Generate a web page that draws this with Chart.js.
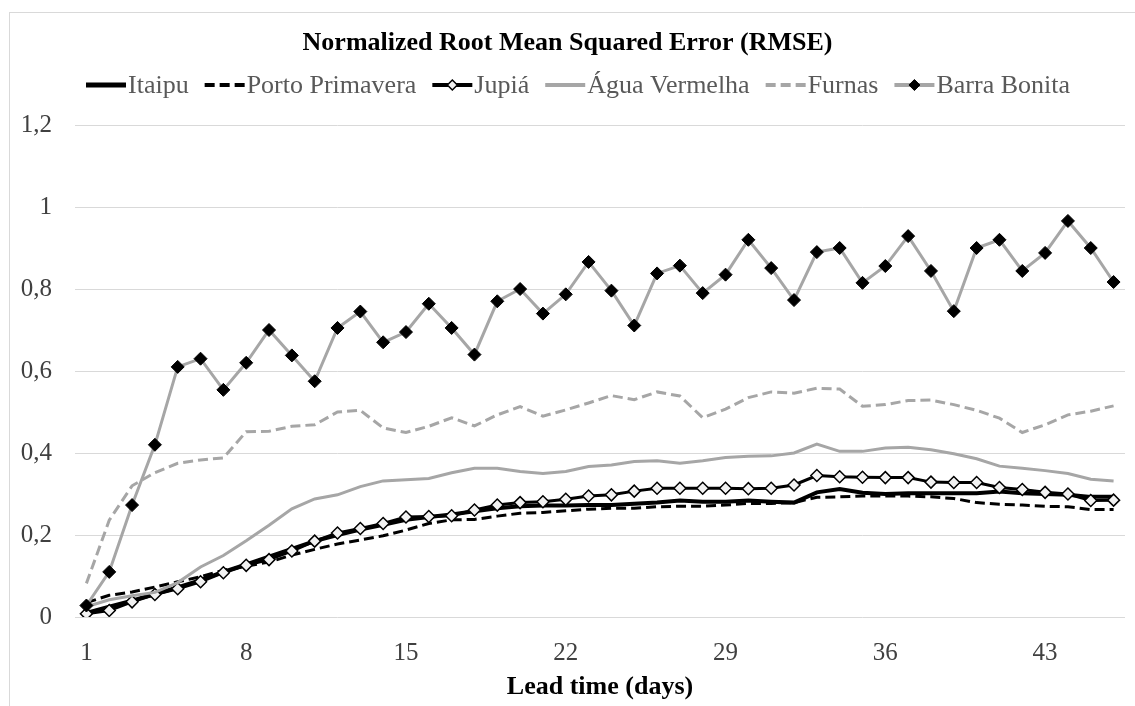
<!DOCTYPE html>
<html>
<head>
<meta charset="utf-8">
<script src="https://cdn.jsdelivr.net/npm/chart.js@4/dist/chart.umd.min.js"></script>
<style>
  html, body { margin: 0; padding: 0; background: #fff; }
  #wrap { width: 1135px; height: 706px; position: relative; }
</style>
</head>
<body>
<div id="wrap"><canvas id="rmseChart"></canvas></div>
<script>
// lead time in days
const days = [1, 2, 3, 4, 5, 6, 7, 8, 9, 10, 11, 12, 13, 14, 15, 16, 17, 18, 19, 20, 21, 22, 23,
  24, 25, 26, 27, 28, 29, 30, 31, 32, 33, 34, 35, 36, 37, 38, 39, 40, 41, 42, 43, 44, 45, 46];
const shownDays = [1, 8, 15, 22, 29, 36, 43];

const itaipu = [0.010, 0.025, 0.040, 0.056, 0.072, 0.090, 0.110, 0.128, 0.147, 0.166, 0.185, 0.200,
  0.213, 0.225, 0.237, 0.244, 0.250, 0.258, 0.265, 0.270, 0.272, 0.272, 0.273, 0.273, 0.276, 0.279,
  0.284, 0.281, 0.281, 0.284, 0.281, 0.279, 0.304, 0.312, 0.303, 0.300, 0.302, 0.302, 0.302, 0.302,
  0.306, 0.302, 0.300, 0.298, 0.293, 0.293];
const portoPrimavera = [0.035, 0.053, 0.061, 0.073, 0.086, 0.098, 0.114, 0.124, 0.134, 0.151, 0.165,
  0.178, 0.188, 0.198, 0.212, 0.228, 0.237, 0.238, 0.246, 0.253, 0.255, 0.259, 0.263, 0.265, 0.265,
  0.269, 0.270, 0.270, 0.273, 0.277, 0.277, 0.279, 0.292, 0.293, 0.295, 0.295, 0.295, 0.293, 0.289,
  0.279, 0.275, 0.273, 0.270, 0.269, 0.262, 0.262];
const jupia = [0.008, 0.016, 0.037, 0.055, 0.069, 0.086, 0.108, 0.126, 0.140, 0.161, 0.185, 0.205,
  0.216, 0.228, 0.244, 0.245, 0.247, 0.261, 0.273, 0.279, 0.281, 0.287, 0.295, 0.298, 0.307, 0.314,
  0.314, 0.314, 0.314, 0.313, 0.314, 0.322, 0.345, 0.342, 0.341, 0.340, 0.340, 0.329, 0.328, 0.328,
  0.316, 0.311, 0.304, 0.300, 0.284, 0.285];
const aguaVermelha = [0.025, 0.042, 0.052, 0.060, 0.084, 0.122, 0.150, 0.186, 0.224, 0.264, 0.288,
  0.298, 0.318, 0.332, 0.335, 0.338, 0.352, 0.363, 0.363, 0.355, 0.350, 0.355, 0.367, 0.371, 0.379,
  0.381, 0.375, 0.381, 0.389, 0.392, 0.393, 0.400, 0.422, 0.404, 0.404, 0.412, 0.414, 0.408, 0.398,
  0.386, 0.368, 0.363, 0.357, 0.350, 0.336, 0.332];
const furnas = [0.082, 0.236, 0.320, 0.352, 0.375, 0.383, 0.388, 0.452, 0.453, 0.465, 0.469, 0.500,
  0.504, 0.461, 0.450, 0.465, 0.486, 0.466, 0.493, 0.513, 0.490, 0.505, 0.522, 0.540, 0.530, 0.549,
  0.539, 0.486, 0.507, 0.535, 0.549, 0.546, 0.558, 0.556, 0.514, 0.518, 0.528, 0.529, 0.518, 0.504,
  0.485, 0.450, 0.469, 0.493, 0.502, 0.515];
const barraBonita = [0.028, 0.110, 0.273, 0.420, 0.610, 0.630, 0.554, 0.620, 0.700, 0.638, 0.575,
  0.705, 0.745, 0.670, 0.695, 0.764, 0.705, 0.640, 0.770, 0.800, 0.740, 0.787, 0.866, 0.796, 0.711,
  0.838, 0.857, 0.790, 0.835, 0.920, 0.851, 0.773, 0.890, 0.900, 0.815, 0.856, 0.929, 0.844, 0.746,
  0.900, 0.920, 0.844, 0.888, 0.966, 0.900, 0.817];

const BLACK = '#000000';
const GREY = '#a6a6a6';
const SERIF = '"Liberation Serif", "Times New Roman", serif';

const datasets = [
  { label: 'Itaipu', data: itaipu, borderColor: BLACK, borderWidth: 4, pointRadius: 0, order: 5 },
  { label: 'Porto Primavera', data: portoPrimavera, borderColor: BLACK, borderWidth: 3,
    borderDash: [10, 5], pointRadius: 0, order: 4 },
  { label: 'Jupiá', data: jupia, borderColor: BLACK, borderWidth: 3, pointRadius: 6,
    pointStyle: 'rectRot', pointBackgroundColor: '#f2f2f2', pointBorderColor: BLACK,
    pointBorderWidth: 1.5, order: 3 },
  { label: 'Água Vermelha', data: aguaVermelha, borderColor: GREY, borderWidth: 3, pointRadius: 0, order: 2 },
  { label: 'Furnas', data: furnas, borderColor: GREY, borderWidth: 3, borderDash: [10, 5],
    pointRadius: 0, order: 1 },
  { label: 'Barra Bonita', data: barraBonita, borderColor: GREY, borderWidth: 3, pointRadius: 6.5,
    pointStyle: 'rectRot', pointBackgroundColor: BLACK, pointBorderColor: BLACK,
    pointBorderWidth: 1, order: 0 }
];

// white page, thin frame, title and the line-sample legend
const frame = {
  id: 'frame',
  beforeDraw(chart) {
    const ctx = chart.ctx;
    ctx.save();
    ctx.fillStyle = '#ffffff';
    ctx.fillRect(0, 0, chart.width, chart.height);
    ctx.strokeStyle = '#d9d9d9';
    ctx.lineWidth = 1;
    ctx.strokeRect(9.5, 12.5, chart.width, chart.height);
    ctx.restore();
  },
  afterDraw(chart) {
    const ctx = chart.ctx;
    ctx.save();
    ctx.fillStyle = '#000';
    ctx.font = 'bold 26px ' + SERIF;
    ctx.textAlign = 'center';
    ctx.textBaseline = 'middle';
    ctx.fillText('Normalized Root Mean Squared Error (RMSE)', chart.width / 2, 43);

    ctx.font = '26px ' + SERIF;
    ctx.textAlign = 'left';
    const sample = 40, textGap = 2, itemGap = 16;
    const sets = chart.data.datasets;
    const widths = sets.map(ds => ctx.measureText(ds.label).width);
    const total = widths.reduce((s, w) => s + sample + textGap + w, 0) + itemGap * (sets.length - 1);
    let x = 578 - total / 2;
    const y = 85;
    sets.forEach((ds, i) => {
      ctx.strokeStyle = ds.borderColor;
      ctx.lineWidth = ds.borderWidth + 1;
      ctx.setLineDash(ds.borderDash ? [10, 5] : []);
      ctx.beginPath();
      ctx.moveTo(x, y);
      ctx.lineTo(x + sample, y);
      ctx.stroke();
      ctx.setLineDash([]);
      if (ds.pointRadius > 0) {
        const r = ds.pointRadius - 1;
        const cx = x + sample / 2;
        ctx.beginPath();
        ctx.moveTo(cx, y - r);
        ctx.lineTo(cx + r, y);
        ctx.lineTo(cx, y + r);
        ctx.lineTo(cx - r, y);
        ctx.closePath();
        ctx.fillStyle = ds.pointBackgroundColor;
        ctx.fill();
        ctx.lineWidth = ds.pointBorderWidth;
        ctx.strokeStyle = ds.pointBorderColor;
        ctx.stroke();
      }
      ctx.fillStyle = '#595959';
      ctx.fillText(ds.label, x + sample + textGap, y + 1);
      x += sample + textGap + widths[i] + itemGap;
    });
    ctx.restore();
  }
};

new Chart(document.getElementById('rmseChart'), {
  type: 'line',
  data: { labels: days, datasets: datasets },
  options: {
    responsive: true,
    maintainAspectRatio: false,
    animation: false,
    events: [],
    layout: { padding: { top: 125, right: 10, left: 0, bottom: 0 } },
    elements: { line: { tension: 0 } },
    plugins: { legend: { display: false }, title: { display: false }, tooltip: { enabled: false } },
    scales: {
      x: {
        offset: true,
        grid: { display: false },
        border: { display: false },
        afterFit(scale) { scale.height = 89; },
        ticks: {
          autoSkip: false,
          maxRotation: 0,
          padding: 13,
          color: '#404040',
          font: { family: SERIF, size: 25 },
          callback(value, index) {
            return shownDays.includes(days[index]) ? String(days[index]) : null;
          }
        },
        title: {
          display: true,
          text: 'Lead time (days)',
          color: '#000',
          font: { family: SERIF, size: 26, weight: 'bold' },
          padding: { top: 0, bottom: 3 }
        }
      },
      y: {
        min: 0,
        max: 1.2,
        afterFit(scale) { scale.width = 75; },
        grid: { color: '#d9d9d9', lineWidth: 1, drawTicks: false },
        border: { display: false },
        ticks: {
          stepSize: 0.2,
          padding: 23,
          color: '#404040',
          font: { family: SERIF, size: 25 },
          callback(value) {
            return String(Math.round(value * 10) / 10).replace('.', ',');
          }
        }
      }
    }
  },
  plugins: [frame]
});
</script>
</body>
</html>
